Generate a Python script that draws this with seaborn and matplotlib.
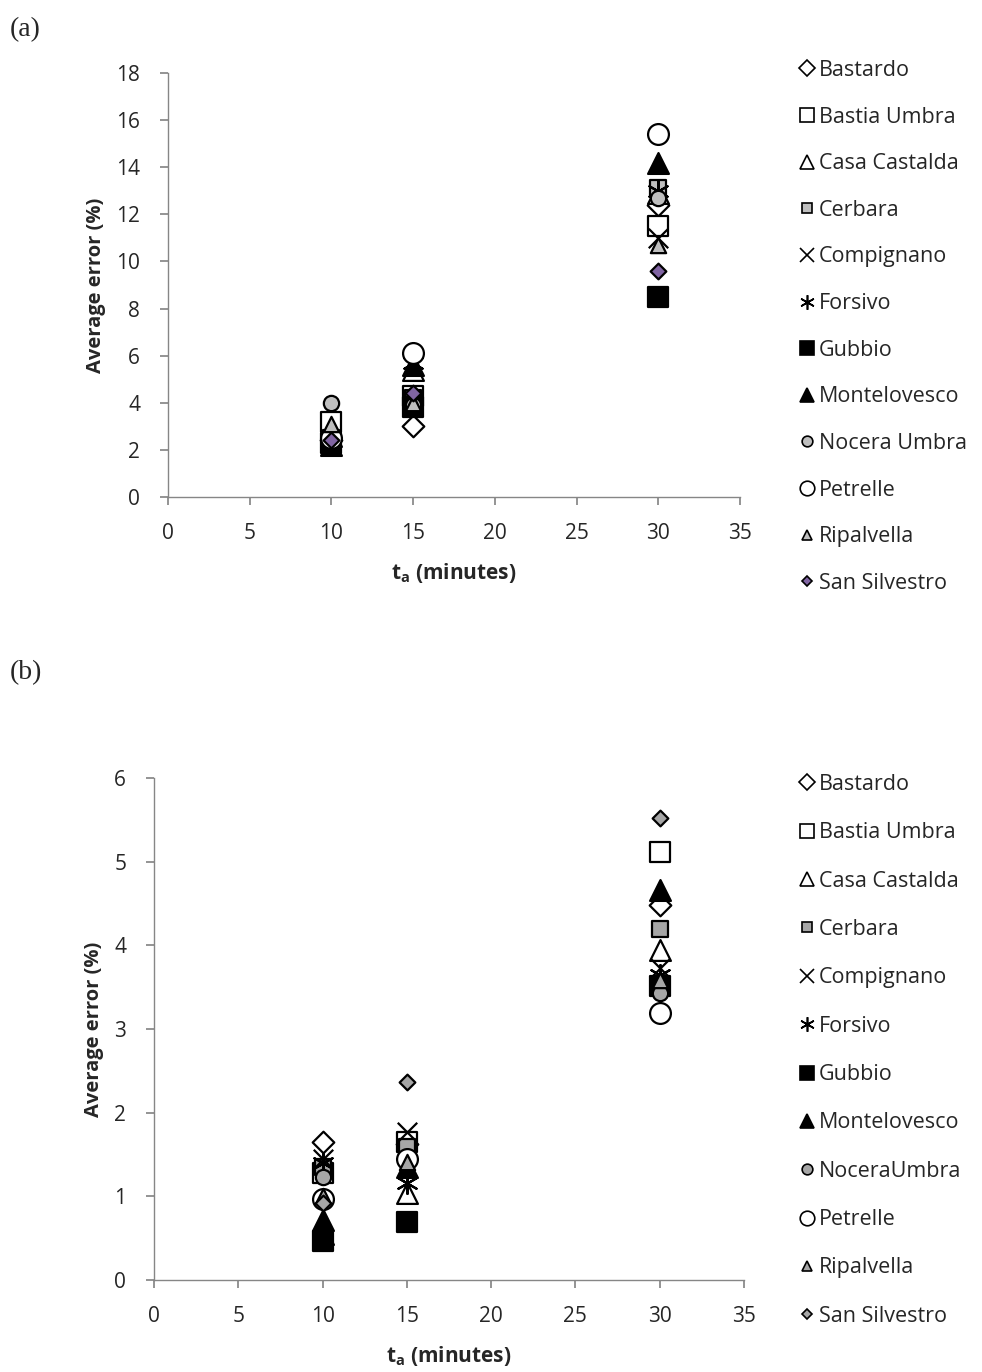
import matplotlib
matplotlib.use("Agg")
import matplotlib.pyplot as plt
import seaborn as sns
import pandas as pd
from matplotlib.lines import Line2D

sns.set_theme(style="white")
plt.rcParams['font.family'] = ['Open Sans', 'DejaVu Sans']
plt.rcParams['mathtext.fontset'] = 'custom'
plt.rcParams['mathtext.bf'] = 'Open Sans:bold'
plt.rcParams['mathtext.rm'] = 'Open Sans'

# ---------------- data ----------------
t_minutes = [10, 15, 30]
stations_a = ["Bastardo", "Bastia Umbra", "Casa Castalda", "Cerbara", "Compignano",
              "Forsivo", "Gubbio", "Montelovesco", "Nocera Umbra", "Petrelle",
              "Ripalvella", "San Silvestro"]
stations_b = ["Bastardo", "Bastia Umbra", "Casa Castalda", "Cerbara", "Compignano",
              "Forsivo", "Gubbio", "Montelovesco", "NoceraUmbra", "Petrelle",
              "Ripalvella", "San Silvestro"]

err_a = {
    "Bastardo":      [2.4, 3.0, 12.4],
    "Bastia Umbra":  [3.2, 4.3, 11.5],
    "Casa Castalda": [2.6, 5.4, 12.9],
    "Cerbara":       [2.5, 4.2, 13.1],
    "Compignano":    [2.4, 4.1, 11.0],
    "Forsivo":       [2.3, 5.7, 13.0],
    "Gubbio":        [2.3, 3.8, 8.5],
    "Montelovesco":  [2.2, 5.6, 14.2],
    "Nocera Umbra":  [4.0, 3.9, 12.7],
    "Petrelle":      [2.5, 6.1, 15.4],
    "Ripalvella":    [3.1, 4.0, 10.7],
    "San Silvestro": [2.4, 4.4, 9.6],
}
err_b = {
    "Bastardo":      [1.65, 1.62, 4.48],
    "Bastia Umbra":  [1.28, 1.65, 5.11],
    "Casa Castalda": [0.55, 1.04, 3.94],
    "Cerbara":       [1.35, 1.59, 4.20],
    "Compignano":    [1.45, 1.77, 3.73],
    "Forsivo":       [1.40, 1.16, 3.65],
    "Gubbio":        [0.47, 0.69, 3.51],
    "Montelovesco":  [0.72, 1.35, 4.66],
    "NoceraUmbra":   [1.23, 1.47, 3.43],
    "Petrelle":      [0.97, 1.45, 3.19],
    "Ripalvella":    [1.00, 1.41, 3.58],
    "San Silvestro": [0.92, 2.37, 5.52],
}

y_ticks_a = [0, 2, 4, 6, 8, 10, 12, 14, 16, 18]
y_ticks_b = [0, 1, 2, 3, 4, 5, 6]
x_ticks = [0, 5, 10, 15, 20, 25, 30, 35]

# ---------------- styles ----------------
ASTER = (6, 2, 0)
GREY_A = "#BFBFBF"
GREY_B = "#A6A6A6"
PURPLE = "#8064A2"

def styles(grey, ss_color):
    # marker, facecolor, size(pt), filled?
    return [
        ("D", "white", 11, True),
        ("s", "white", 14, True),
        ("^", "white", 15, True),
        ("s", grey, 11, True),
        ("x", "black", 14, False),
        (ASTER, "black", 15, False),
        ("s", "black", 14, True),
        ("^", "black", 15, True),
        ("o", grey, 11, True),
        ("o", "white", 15, True),
        ("^", grey, 11, True),
        ("D", ss_color, 8, True),
    ]

def draw(ax, names, data, sty, yticks, ymax):
    for i, (name, (m, fc, sz, filled)) in enumerate(zip(names, sty)):
        df = pd.DataFrame({"t": t_minutes, "err": data[name]})
        if filled:
            sns.scatterplot(data=df, x="t", y="err", marker=m, s=sz ** 2,
                            color=fc, edgecolor="black", linewidth=1.6,
                            ax=ax, zorder=3 + i, legend=False)
        else:
            sns.scatterplot(data=df, x="t", y="err", marker=m, s=sz ** 2,
                            color="black", linewidth=1.6,
                            ax=ax, zorder=3 + i, legend=False)
    ax.set_xlim(0, 35)
    ax.set_ylim(0, ymax)
    ax.set_xticks(x_ticks)
    ax.set_yticks(yticks)
    for s in ["top", "right"]:
        ax.spines[s].set_visible(False)
    for s in ["left", "bottom"]:
        ax.spines[s].set_color("#868686")
        ax.spines[s].set_linewidth(1.0)
    ax.tick_params(axis="both", which="major", direction="out", length=6,
                   color="#868686", labelsize=15, left=True, bottom=True)
    ax.tick_params(axis="y", pad=14)
    ax.tick_params(axis="x", pad=13)
    ax.set_xlabel(r"$\mathbf{t_a}$ (minutes)", fontsize=15, fontweight="bold", labelpad=12)
    ax.set_ylabel("Average error (%)", fontsize=14.5, fontweight="bold", labelpad=7)
    for c in ax.collections:
        c.set_clip_on(False)

def legend(fig, names, sty, y_top, spacing):
    handles = []
    for (m, fc, sz, filled) in sty:
        if filled:
            h = Line2D([], [], linestyle="none", marker=m, markersize=sz * 0.7,
                       markerfacecolor=fc, markeredgecolor="black", markeredgewidth=1.2)
        else:
            h = Line2D([], [], linestyle="none", marker=m, markersize=sz * 0.7,
                       color="black", markeredgewidth=1.2)
        handles.append(h)
    fig.legend(handles, names, loc="upper left", bbox_to_anchor=(0.812, y_top),
               frameon=False, fontsize=15.5, handletextpad=0.1, handlelength=0.9,
               labelspacing=spacing, borderpad=0, borderaxespad=0)

W, H = 982, 1372
fig = plt.figure(figsize=(W / 100, H / 100), dpi=100)

ax1 = fig.add_axes([168 / W, 1 - 497 / H, 572 / W, 424 / H])
draw(ax1, stations_a, err_a, styles(GREY_A, PURPLE), y_ticks_a, 18)
legend(fig, stations_a, styles(GREY_A, PURPLE), 1 - 60 / H, 1.19)

ax2 = fig.add_axes([154 / W, 1 - 1280 / H, 590 / W, 502 / H])
draw(ax2, stations_b, err_b, styles(GREY_B, GREY_B), y_ticks_b, 6)
legend(fig, stations_b, styles(GREY_B, GREY_B), 1 - 774 / H, 1.27)

fig.text(10 / W, 1 - 30 / H, "(a)", fontsize=20, family="Liberation Serif", va="center")
fig.text(10 / W, 1 - 673 / H, "(b)", fontsize=20, family="Liberation Serif", va="center")

fig.savefig("out.png", dpi=100, facecolor="white")
